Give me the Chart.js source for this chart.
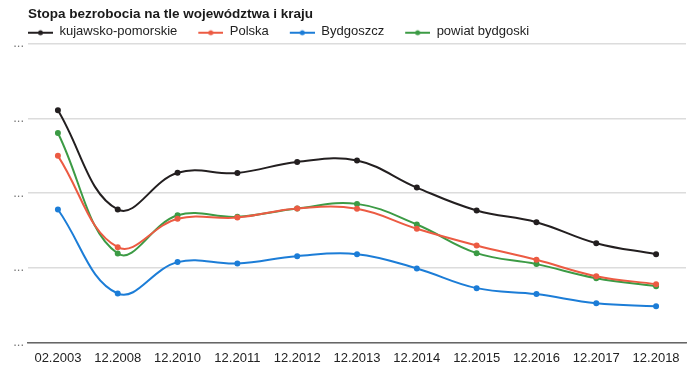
<!DOCTYPE html>
<html>
<head>
<meta charset="utf-8">
<script src="https://cdn.jsdelivr.net/npm/chart.js@4/dist/chart.umd.min.js"></script>
<style>
  body { margin: 0; background: #fff; }
  .wrap { width: 700px; height: 385px; }
</style>
</head>
<body>
<div class="wrap"><canvas id="myChart"></canvas></div>
<script>
const labels = ['02.2003', '12.2008', '12.2010', '12.2011', '12.2012', '12.2013',
  '12.2014', '12.2015', '12.2016', '12.2017', '12.2018'];

// values (axis labels are hidden as "..." in the original)
const kujawskoPomorskie = [18.65, 10.68, 13.63, 13.62, 14.50, 14.61, 12.44, 10.60, 9.66, 7.97, 7.09];
const polska = [14.99, 7.65, 9.93, 10.03, 10.76, 10.73, 9.13, 7.79, 6.64, 5.32, 4.68];
const bydgoszcz = [10.68, 3.93, 6.45, 6.34, 6.93, 7.09, 5.94, 4.36, 3.88, 3.15, 2.91];
const powiatBydgoski = [16.83, 7.14, 10.21, 10.09, 10.76, 11.13, 9.47, 7.17, 6.29, 5.16, 4.52];

const colors = ['#231f20', '#ec5b43', '#1c7dd7', '#3c9b45'];
const FONT = '"Liberation Sans", Arial, sans-serif';

// legend symbol: short line with a dot, drawn at the right of a wider box
function marker(color) {
  const c = document.createElement('canvas');
  c.width = 41;
  c.height = 12;
  const ctx = c.getContext('2d');
  ctx.strokeStyle = color;
  ctx.lineWidth = 2;
  ctx.beginPath();
  ctx.moveTo(16, 7);
  ctx.lineTo(41, 7);
  ctx.stroke();
  ctx.fillStyle = color;
  ctx.beginPath();
  ctx.arc(28.5, 7, 2.5, 0, Math.PI * 2);
  ctx.fill();
  return c;
}
const markers = colors.map(marker);

const legendGap = {
  id: 'legendGap',
  beforeInit(chart) {
    const fit = chart.legend.fit;
    chart.legend.fit = function () {
      fit.call(this);
      this.height -= 4.5;
    };
  }
};

function line(label, data, color) {
  return {
    label, data,
    borderColor: color,
    backgroundColor: color,
    borderWidth: 2,
    pointRadius: 2,
    pointHoverRadius: 3,
    tension: 0.4,
    fill: false
  };
}

const datasets = [
  line('kujawsko-pomorskie', kujawskoPomorskie, colors[0]),
  line('Polska', polska, colors[1]),
  line('Bydgoszcz', bydgoszcz, colors[2]),
  line('powiat bydgoski', powiatBydgoski, colors[3])
];

const ctx = document.getElementById('myChart').getContext('2d');
new Chart(ctx, {
  type: 'line',
  data: { labels, datasets },
  plugins: [legendGap],
  options: {
    responsive: true,
    maintainAspectRatio: false,
    animation: false,
    layout: { padding: { left: 7, right: 14, top: 0, bottom: 19 } },
    plugins: {
      title: {
        display: true,
        text: 'Stopa bezrobocia na tle województwa i kraju',
        align: 'start',
        fullSize: false,
        color: '#1a1a1a',
        font: { family: FONT, size: 13.5, weight: 'bold' },
        padding: { top: 6, bottom: -2 }
      },
      legend: {
        align: 'start',
        labels: {
          usePointStyle: true,
          pointStyleWidth: 41,
          padding: 5,
          color: '#222',
          font: { family: FONT, size: 13 },
          generateLabels(chart) {
            const items = Chart.defaults.plugins.legend.labels.generateLabels(chart);
            items.forEach((item, i) => { item.pointStyle = markers[i]; });
            return items;
          }
        }
      },
      tooltip: { enabled: false }
    },
    scales: {
      x: {
        offset: true,
        grid: { display: false },
        border: { display: true, color: '#666', width: 1.5 },
        ticks: {
          color: '#222',
          font: { family: FONT, size: 13 },
          padding: 0,
          maxRotation: 0,
          autoSkip: false
        }
      },
      y: {
        min: 0,
        max: 24,
        afterFit(scale) { scale.width = 21; },
        border: { display: false },
        grid: { color: '#dcdcdc', lineWidth: 1.5, drawTicks: false },
        ticks: {
          stepSize: 6,
          padding: 4,
          color: '#777',
          font: { family: FONT, size: 13 },
          callback: () => '...'
        }
      }
    }
  }
});
</script>
</body>
</html>
